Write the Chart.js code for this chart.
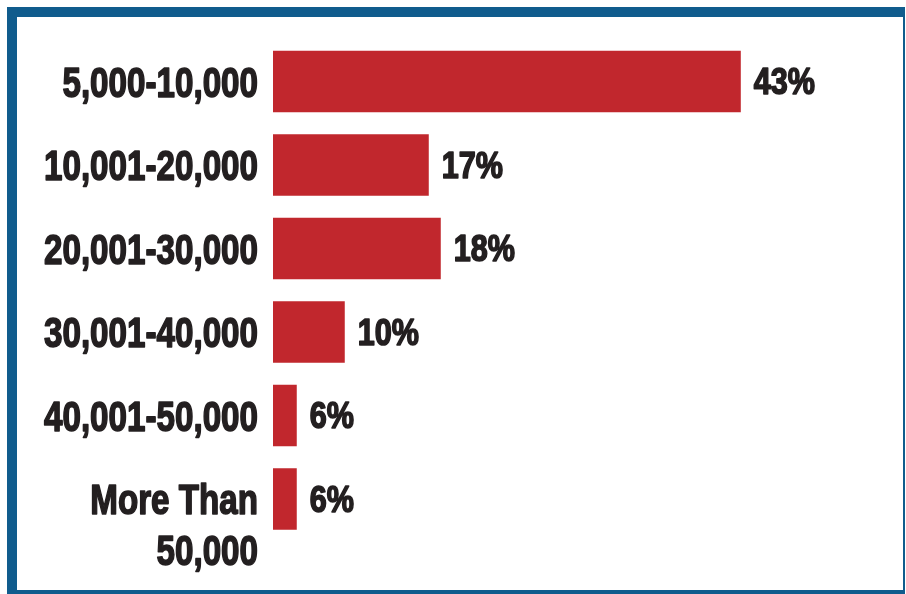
<!DOCTYPE html>
<html>
<head>
<meta charset="utf-8">
<script src="https://cdn.jsdelivr.net/npm/chart.js@4.4.1/dist/chart.umd.min.js"></script>
<style>
  html, body { margin: 0; padding: 0; background: #ffffff; }
  #wrap { position: relative; width: 906px; height: 594px; overflow: hidden; }
  #frame {
    position: absolute; left: 7px; top: 7px; width: 886px; height: 573px;
    border-left: 10px solid #105c8d; border-top: 10px solid #105c8d;
    border-right: 2px solid #105c8d; border-bottom: 4px solid #105c8d;
    pointer-events: none;
  }
  canvas { position: absolute; left: 0; top: 0; }
</style>
</head>
<body>
<div id="wrap">
  <canvas id="c" width="906" height="594"></canvas>
  <div id="frame"></div>
</div>
<script>
// ---- data ----
const categories = [
  ['5,000-10,000'],
  ['10,001-20,000'],
  ['20,001-30,000'],
  ['30,001-40,000'],
  ['40,001-50,000'],
  ['More Than', '50,000']
];
const shares = [43, 17, 18, 10, 6, 6];
const shareLabels = ['43%', '17%', '18%', '10%', '6%', '6%'];

// axis range as drawn in the original (bars start at ~4%)
const axisMin = 4.02;
const axisMax = 50;

const FONT = "'Liberation Sans', Arial, sans-serif";
const TEXT = '#231f20';

// draw horizontally condensed, heavy text (the original uses a condensed black face)
function condensedText(ctx, text, x, y, squeeze, align) {
  const w = ctx.measureText(text).width * squeeze;
  ctx.save();
  ctx.translate(align === 'right' ? x - w : x, y);
  ctx.scale(squeeze, 1);
  ctx.textAlign = 'left';
  ctx.lineJoin = 'round';
  ctx.lineWidth = 1.6;
  ctx.strokeStyle = TEXT;
  ctx.strokeText(text, 0, 0);
  ctx.fillText(text, 0, 0);
  ctx.restore();
}

const labelPlugin = {
  id: 'labelPlugin',
  afterDatasetsDraw(chart) {
    const ctx = chart.ctx;
    const yScale = chart.scales.y;
    const meta = chart.getDatasetMeta(0);
    ctx.save();
    ctx.fillStyle = TEXT;
    ctx.textBaseline = 'alphabetic';
    // category labels
    const catSize = 42;
    ctx.font = 'bold ' + catSize + 'px ' + FONT;
    const xRight = chart.chartArea.left - 15;
    categories.forEach((lines, i) => {
      const yc = yScale.getPixelForValue(i);
      lines.forEach((ln, j) => {
        condensedText(ctx, ln, xRight, yc + catSize * 0.358 + j * 51, 0.79, 'right');
      });
    });
    // value labels
    const valSize = 36;
    ctx.font = 'bold ' + valSize + 'px ' + FONT;
    meta.data.forEach((bar, i) => {
      condensedText(ctx, shareLabels[i], bar.x + 13, bar.y + valSize * 0.358, 0.85, 'left');
    });
    ctx.restore();
  }
};

new Chart(document.getElementById('c'), {
  type: 'bar',
  data: {
    labels: categories.map(l => l.join(' ')),
    datasets: [{
      data: shares,
      backgroundColor: '#c1272d',
      borderWidth: 0,
      barPercentage: 0.735,
      categoryPercentage: 1
    }]
  },
  options: {
    indexAxis: 'y',
    responsive: false,
    animation: false,
    devicePixelRatio: 1,
    layout: { padding: { left: 273, right: 81.2, top: 39.75, bottom: 53.25 } },
    plugins: { legend: { display: false }, tooltip: { enabled: false } },
    scales: {
      x: { type: 'linear', min: axisMin, max: axisMax, display: false },
      y: { type: 'category', display: false }
    }
  },
  plugins: [labelPlugin]
});
</script>
</body>
</html>
